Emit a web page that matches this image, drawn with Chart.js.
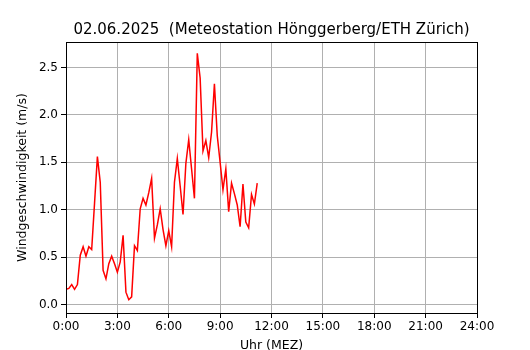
<!DOCTYPE html>
<html>
<head>
<meta charset="utf-8">
<script src="https://cdn.jsdelivr.net/npm/chart.js"></script>
<style>
  body { margin: 0; padding: 0; background: #fff; }
  #wrap { width: 530px; height: 350px; }
</style>
</head>
<body>
<div id="wrap"><canvas id="windChart" width="530" height="350"></canvas></div>
<script>
// Messzeiten (MEZ) und Windgeschwindigkeit in m/s
const times = [
  '0:00', '0:10', '0:20', '0:30', '0:40', '0:50',
  '1:00', '1:10', '1:20', '1:30', '1:40', '1:50',
  '2:00', '2:10', '2:20', '2:30', '2:40', '2:50',
  '3:00', '3:10', '3:20', '3:30', '3:40', '3:50',
  '4:00', '4:10', '4:20', '4:30', '4:40', '4:50',
  '5:00', '5:10', '5:20', '5:30', '5:40', '5:50',
  '6:00', '6:10', '6:20', '6:30', '6:40', '6:50',
  '7:00', '7:10', '7:20', '7:30', '7:40', '7:50',
  '8:00', '8:10', '8:20', '8:30', '8:40', '8:50',
  '9:00', '9:10', '9:20', '9:30', '9:40', '9:50',
  '10:00', '10:10', '10:20', '10:30', '10:40', '10:50',
  '11:00', '11:10'
];
const windSpeed = [
  0.16, 0.17, 0.21, 0.16, 0.21, 0.52,
  0.61, 0.51, 0.61, 0.58, 1.07, 1.56,
  1.29, 0.36, 0.27, 0.43, 0.51, 0.43,
  0.34, 0.45, 0.73, 0.13, 0.05, 0.08,
  0.62, 0.57, 1.01, 1.12, 1.05, 1.18,
  1.33, 0.70, 0.84, 1.01, 0.79, 0.62,
  0.78, 0.61, 1.29, 1.54, 1.25, 0.95,
  1.49, 1.74, 1.43, 1.12, 2.65, 2.39,
  1.62, 1.73, 1.55, 1.82, 2.33, 1.78,
  1.50, 1.21, 1.43, 0.98, 1.28, 1.17,
  1.05, 0.82, 1.27, 0.87, 0.81, 1.16,
  1.06, 1.28
];
const hourTicks = [0, 3, 6, 9, 12, 15, 18, 21, 24];
const speedTicks = [0.0, 0.5, 1.0, 1.5, 2.0, 2.5];
const titleText = '02.06.2025  (Meteostation Hönggerberg/ETH Zürich)';

const toHours = (t) => {
  const [h, m] = t.split(':').map(Number);
  return h + m / 60;
};

const points = times.map((t, i) => ({ x: toHours(t), y: windSpeed[i] }));

const FONT = 'DejaVu Sans';

// Rahmen um den Plotbereich + Titel ueber dem Plotbereich zentriert (wie matplotlib)
const frame = {
  id: 'frame',
  afterDraw(chart) {
    const { ctx, chartArea: a } = chart;
    ctx.save();
    ctx.strokeStyle = '#000';
    ctx.lineWidth = 1;
    ctx.strokeRect(a.left + 0.5, a.top + 0.5, a.right - a.left, a.bottom - a.top);
    ctx.fillStyle = '#000';
    ctx.font = '15px "' + FONT + '"';
    ctx.textAlign = 'center';
    ctx.textBaseline = 'middle';
    ctx.fillText(titleText, (a.left + a.right) / 2, 30);
    ctx.restore();
  }
};

new Chart(document.getElementById('windChart'), {
  type: 'line',
  data: {
    datasets: [{
      data: points,
      borderColor: '#ff0000',
      borderWidth: 1.5,
      pointRadius: 0,
      tension: 0,
      fill: false
    }]
  },
  options: {
    responsive: false,
    animation: false,
    layout: { padding: { left: 0, right: 53, top: 42, bottom: 0 } },
    plugins: {
      legend: { display: false },
      tooltip: { enabled: false },
      title: { display: false }
    },
    scales: {
      x: {
        type: 'linear',
        min: 0,
        max: 24,
        afterBuildTicks(scale) {
          scale.ticks = hourTicks.map(v => ({ value: v }));
        },
        afterFit(scale) { scale.height = 37; },
        ticks: {
          color: '#000',
          font: { family: FONT, size: 12 },
          padding: 2,
          maxRotation: 0,
          autoSkip: false,
          callback: (v) => v + ':00'
        },
        grid: { color: '#b0b0b0', tickColor: '#000', tickLength: 5 },
        border: { color: '#000' },
        title: {
          display: true,
          text: 'Uhr (MEZ)',
          color: '#000',
          font: { family: FONT, size: 12.5, lineHeight: 1 },
          padding: { top: 0, bottom: -1.5 }
        }
      },
      y: {
        min: -0.09,
        max: 2.77,
        afterBuildTicks(scale) {
          scale.ticks = speedTicks.map(v => ({ value: v }));
        },
        afterFit(scale) { scale.width = 66; },
        ticks: {
          color: '#000',
          font: { family: FONT, size: 12 },
          padding: 3,
          callback: (v) => Number(v).toFixed(1)
        },
        grid: { color: '#b0b0b0', tickColor: '#000', tickLength: 5 },
        border: { color: '#000' },
        title: {
          display: true,
          text: 'Windgeschwindigkeit (m/s)',
          color: '#000',
          font: { family: FONT, size: 12.5, lineHeight: 1 },
          padding: { top: 16, bottom: 0 }
        }
      }
    }
  },
  plugins: [frame]
});
</script>
</body>
</html>
